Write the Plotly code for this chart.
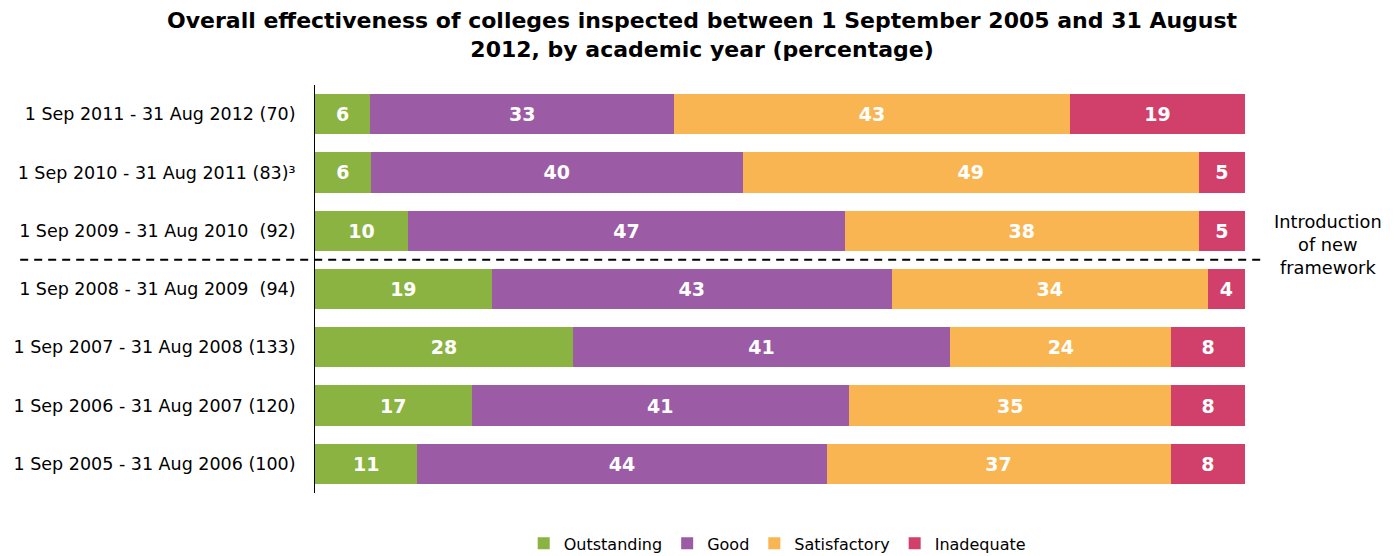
import plotly.graph_objects as go

categories = [
    "1 Sep 2005 - 31 Aug 2006 (100)",
    "1 Sep 2006 - 31 Aug 2007 (120)",
    "1 Sep 2007 - 31 Aug 2008 (133)",
    "1 Sep 2008 - 31 Aug 2009  (94)",
    "1 Sep 2009 - 31 Aug 2010  (92)",
    "1 Sep 2010 - 31 Aug 2011 (83)³",
    "1 Sep 2011 - 31 Aug 2012 (70)",
]
outstanding = [11, 17, 28, 19, 10, 6, 6]
good = [44, 41, 41, 43, 47, 40, 33]
satisfactory = [37, 35, 24, 34, 38, 49, 43]
inadequate = [8, 8, 8, 4, 5, 5, 19]

series = [
    ("Outstanding", outstanding, "#8BB341"),
    ("Good", good, "#9B5BA5"),
    ("Satisfactory", satisfactory, "#F9B552"),
    ("Inadequate", inadequate, "#D13F6B"),
]

FONT = "DejaVu Sans"

fig = go.Figure()
for name, vals, col in series:
    fig.add_trace(go.Bar(
        y=categories, x=vals, name=name, orientation="h",
        marker=dict(color=col, line=dict(width=0)),
        text=[str(v) for v in vals], textposition="inside",
        insidetextanchor="middle",
        textfont=dict(family=FONT, size=19, color="white", weight="bold"),
        cliponaxis=False,
    ))

# page has an 8px body margin; margins below compensate for it
fig.update_layout(
    barmode="stack", barnorm="percent", bargap=0.31,
    width=1397, height=556,
    margin=dict(l=307, r=160, t=77, b=71, autoexpand=False),
    paper_bgcolor="white", plot_bgcolor="white",
    font=dict(family=FONT, color="black"),
    xaxis=dict(range=[0, 100], visible=False, fixedrange=True, automargin=False),
    yaxis=dict(
        categoryorder="array", categoryarray=categories,
        showline=True, linecolor="black", linewidth=1,
        showgrid=False, ticks="", ticklabelstandoff=15, automargin=False,
        tickfont=dict(family=FONT, size=17.5, color="black"),
        range=[-0.5, 6.5],
    ),
    showlegend=True,
    legend=dict(
        orientation="h", x=0.497, xanchor="center", xref="paper",
        y=-0.082, yanchor="top",
        font=dict(family=FONT, size=16, color="black"),
        itemwidth=30, traceorder="normal",
    ),
    uniformtext=dict(mode="show", minsize=10),
)

fig.add_annotation(
    text="<b>Overall effectiveness of colleges inspected between 1 September 2005 and 31 August<br>2012, by academic year (percentage)</b>",
    xref="paper", yref="paper", x=0.417, y=1.1225,
    xanchor="center", yanchor="middle", showarrow=False,
    font=dict(family=FONT, size=22, color="black"),
)

fig.add_shape(
    type="line", xref="paper", yref="y",
    x0=-0.317, x1=1.018, y0=3.5, y1=3.5,
    line=dict(color="black", width=2, dash="8px,6px"),
)
fig.add_annotation(
    text="Introduction<br>of new<br>framework", xref="paper", yref="y",
    x=1.089, y=3.77, showarrow=False, xanchor="center", yanchor="middle",
    font=dict(family=FONT, size=17.8, color="black"),
)

fig.write_html("out.html")
